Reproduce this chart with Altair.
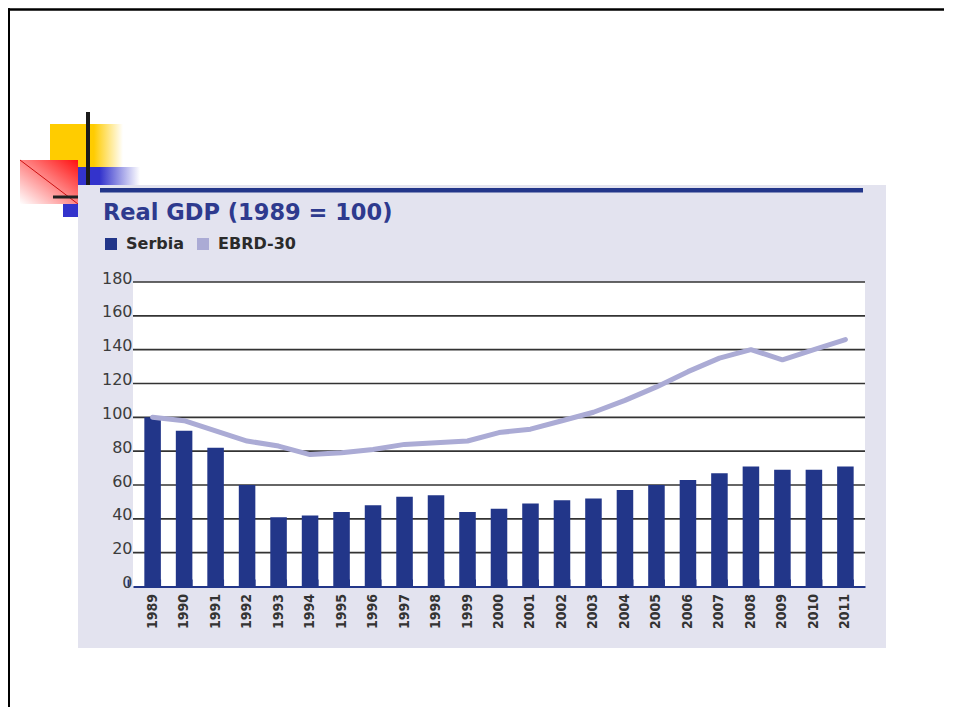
import altair as alt
import pandas as pd

# ---- data ----
years = [str(y) for y in range(1989, 2012)]
serbia = [100, 92, 82, 60, 41, 42, 44, 48, 53, 54, 44, 46, 49, 51, 52, 57, 60, 63, 67, 71, 69, 69, 71]
ebrd30 = [100, 98, 92, 86, 83, 78, 79, 81, 84, 85, 86, 91, 93, 98, 103, 110, 118, 127, 135, 140, 134, 140, 146]
series_names = ["Serbia", "EBRD-30"]
y_ticks = [0, 20, 40, 60, 80, 100, 120, 140, 160, 180]
grid_vals = [20, 40, 60, 80, 100, 120, 140, 160, 180]
title_text = "Real GDP (1989 = 100)"

# ---- style ----
NAVY = "#223689"
LAV = "#ABABD5"
PANEL = "#E3E3EF"
W, H = 732, 304.5
P_IN, P_OUT = 0.475, 0.36
STEP = W / (len(years) - P_IN + 2 * P_OUT)

bars_df = pd.DataFrame({"year": years, "value": serbia, "series": series_names[0]})
line_df = pd.DataFrame({"year": years, "value": ebrd30, "series": series_names[1]})
grid_df = pd.DataFrame({"v": grid_vals})
tick_df = pd.DataFrame({"year": years})
last_df = pd.DataFrame({"year": [years[-1]]})
one = pd.DataFrame({"t": [title_text]})

x_scale = alt.Scale(paddingInner=P_IN, paddingOuter=P_OUT)
y_scale = alt.Scale(domain=[0, 180], nice=False)
x_axis = alt.Axis(title=None, labelAngle=270, labelAlign="right", labelBaseline="middle",
                  labelPadding=7, ticks=False, domainColor=NAVY, domainWidth=2,
                  labelFont="DejaVu Sans Condensed, DejaVu Sans, sans-serif",
                  labelFontSize=14, labelFontWeight="bold", labelColor="#333333",
                  grid=False, zindex=1)
y_axis = alt.Axis(title=None, values=y_ticks, ticks=False, domain=False, grid=False,
                  labelFont="DejaVu Sans", labelFontSize=16, labelColor="#3c3c3c",
                  labelPadding=1, labelBaseline="alphabetic", labelOffset=1, zindex=1)
color = alt.Color("series:N", scale=alt.Scale(domain=series_names, range=[NAVY, LAV]),
                  legend=alt.Legend(orient="none", legendX=-30, legendY=-46, direction="horizontal",
                                    title=None, symbolType="square", symbolSize=144,
                                    symbolStrokeWidth=0, labelFont="DejaVu Sans",
                                    labelFontSize=16, labelFontWeight="bold",
                                    labelColor="#2b2b2b", labelOffset=7, columnPadding=11,
                                    zindex=1))


def box(x, x2, y, y2, **mark):
    return alt.Chart(one).mark_rect(**mark).encode(
        x=alt.value(x), x2=alt.value(x2), y=alt.value(y), y2=alt.value(y2))


def grad(c1, stop, c2, x1=0, y1=0, x2=1, y2=0):
    return alt.LinearGradient(gradient="linear", x1=x1, y1=y1, x2=x2, y2=y2,
                              stops=[alt.GradientStop(color=c1, offset=0),
                                     alt.GradientStop(color=c1, offset=stop),
                                     alt.GradientStop(color=c2, offset=1)])

# slide decoration
top_border = box(-125, 811, -273.7, -271.3, color="black")
left_border = box(-125, -123, -273.7, 430, color="black")
yellow = box(-83, -10, -158, -115, fill=grad("#FFCC00", 0.6, "#FFFFFF"))
blue = box(-55, 7, -115, -97, fill=grad("#3333CC", 0.35, "#FFFFFF"))
red = box(-113, -55, -122, -78, fill=grad("#FFFFFF", 0.0, "#FF1010", x1=0, y1=1, x2=1, y2=0))
red_diag = alt.Chart(one).mark_rule(color="#CC1111", strokeWidth=1).encode(
    x=alt.value(-113), x2=alt.value(-55), y=alt.value(-122), y2=alt.value(-78))
vline = box(-47, -43, -170, -97, color="#1a1a1a")
hline = box(-80, -55, -86.5, -83.5, color="#222222")
small_blue = box(-70, -55, -78, -65, color="#3333CC")

# chart panel
panel = box(-55, 753, -97, 366, color=PANEL)
top_bar = box(-33, 730, -94, -89.5, color="#23368A")
plot_bg = box(0, W, 0, H, color="white")

grid = alt.Chart(grid_df).mark_rule(color="#333333", strokeWidth=1.6).encode(
    y=alt.Y("v:Q", scale=y_scale, axis=y_axis))

bars = alt.Chart(bars_df).mark_bar().encode(
    x=alt.X("year:O", scale=x_scale, axis=x_axis),
    y=alt.Y("value:Q", scale=y_scale, axis=y_axis),
    color=color)

line = alt.Chart(line_df).mark_line(strokeWidth=5, strokeJoin="round", strokeCap="round").encode(
    x=alt.X("year:O", scale=x_scale, axis=x_axis, bandPosition=0.5),
    y=alt.Y("value:Q", scale=y_scale, axis=y_axis),
    color=color)

ticks = alt.Chart(tick_df).mark_rule(color=NAVY, strokeWidth=2).encode(
    x=alt.X("year:O", scale=x_scale, axis=x_axis, bandPosition=0.5),
    xOffset=alt.value(-STEP / 2), y=alt.value(H - 7), y2=alt.value(H))
last_tick = alt.Chart(last_df).mark_rule(color=NAVY, strokeWidth=2).encode(
    x=alt.X("year:O", scale=x_scale, axis=x_axis, bandPosition=0.5),
    xOffset=alt.value(STEP / 2), y=alt.value(H - 7), y2=alt.value(H))

title = alt.Chart(one).mark_text(align="left", baseline="alphabetic", font="DejaVu Sans",
                                 fontSize=22.5, fontWeight="bold", color="#2E3A8E").encode(
    text="t:N", x=alt.value(-30), y=alt.value(-62))

chart = alt.layer(
    top_border, left_border, yellow, blue, red, red_diag, vline, hline, small_blue,
    panel, top_bar, plot_bg, grid, bars, line, ticks, last_tick, title
).properties(
    width=W, height=H,
    padding={"left": 125, "top": 274, "right": 79, "bottom": 120},
    autosize=alt.AutoSizeParams(type="none"),
    background="white",
).configure_view(strokeWidth=0)

chart.save("out.html", embed_options={"renderer": "svg", "actions": False})
